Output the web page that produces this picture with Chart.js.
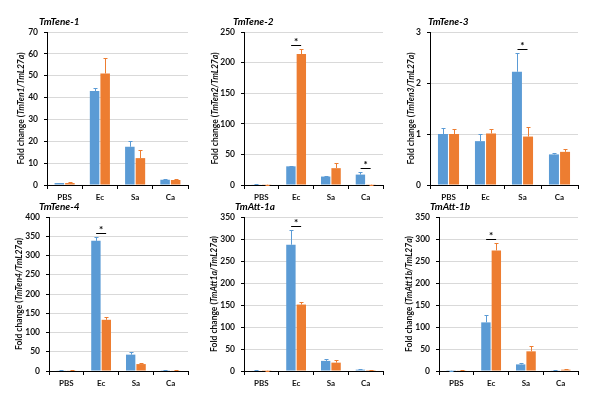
<!DOCTYPE html>
<html>
<head>
<meta charset="utf-8">
<script src="https://cdn.jsdelivr.net/npm/chart.js@4.4.0/dist/chart.umd.min.js"></script>
<style>
  body { margin: 0; background: #fff; }
  #wrap { position: relative; width: 591px; height: 400px; background: #fff; }
  #wrap canvas { position: absolute; }
</style>
</head>
<body>
<div id="wrap">
  <canvas id="c1" width="195" height="200" style="left:0;top:0"></canvas>
  <canvas id="c2" width="195" height="200" style="left:195px;top:0"></canvas>
  <canvas id="c3" width="201" height="200" style="left:390px;top:0"></canvas>
  <canvas id="c4" width="195" height="200" style="left:0;top:200px"></canvas>
  <canvas id="c5" width="195" height="200" style="left:195px;top:200px"></canvas>
  <canvas id="c6" width="201" height="200" style="left:390px;top:200px"></canvas>
</div>
<script>
// data
var categories = ['PBS', 'Ec', 'Sa', 'Ca'];

var tene1Blue = [0.9, 43, 17.5, 2.4];
var tene1BlueErr = [0.2, 1.6, 2.5, 0.3];
var tene1Orange = [0.9, 51, 12.3, 2.3];
var tene1OrangeErr = [0.3, 7, 3.6, 0.3];

var tene2Blue = [1, 30.5, 13.8, 17];
var tene2BlueErr = [0.3, 1, 1, 3.5];
var tene2Orange = [0.5, 214, 27.5, 0.5];
var tene2OrangeErr = [0.2, 9, 8, 0.2];

var tene3Blue = [1.0, 0.86, 2.22, 0.6];
var tene3BlueErr = [0.11, 0.14, 0.37, 0.02];
var tene3Orange = [1.0, 1.01, 0.95, 0.65];
var tene3OrangeErr = [0.1, 0.08, 0.18, 0.05];

var tene4Blue = [1, 338, 42.5, 2];
var tene4BlueErr = [0.3, 10, 7, 0.5];
var tene4Orange = [1, 133, 18, 1];
var tene4OrangeErr = [0.3, 6, 3, 0.3];

var att1aBlue = [1, 287, 23, 3];
var att1aBlueErr = [0.3, 33, 3.5, 0.5];
var att1aOrange = [0.5, 151, 19, 2];
var att1aOrangeErr = [0.2, 5, 7, 0.3];

var att1bBlue = [0.5, 110.5, 15, 1.5];
var att1bBlueErr = [0.2, 16, 4, 0.3];
var att1bOrange = [1.5, 274, 44.7, 3];
var att1bOrangeErr = [0.3, 17, 12, 0.5];

// categories marked with an asterisk
var tene1Sig = [];
var tene2Sig = [1, 3];
var tene3Sig = [2];
var tene4Sig = [1];
var att1aSig = [1];
var att1bSig = [1];

var BLUE = '#5B9BD5';
var ORANGE = '#ED7D31';
var FONT = 'Lato, "Open Sans", sans-serif';

// error bars (upper only, coloured like the bar)
var errorBars = {
  id: 'errorBars',
  afterDatasetsDraw: function(chart) {
    var ctx = chart.ctx, y = chart.scales.y;
    chart.data.datasets.forEach(function(ds, i) {
      var meta = chart.getDatasetMeta(i);
      meta.data.forEach(function(bar, j) {
        var e = ds.errors[j];
        if (!e) return;
        var top = Math.round(y.getPixelForValue(ds.data[j] + e)) + 0.5;
        var x = Math.round(bar.x) + 0.5;
        ctx.save();
        ctx.strokeStyle = ds.backgroundColor;
        ctx.lineWidth = 1;
        ctx.beginPath();
        ctx.moveTo(x, bar.y);
        ctx.lineTo(x, top);
        ctx.moveTo(x - 2, top);
        ctx.lineTo(x + 2, top);
        ctx.stroke();
        ctx.restore();
      });
    });
  }
};

// asterisk + bar over significant pairs, plus the panel title and y title
var labels = {
  id: 'labels',
  afterDraw: function(chart, args, o) {
    var ctx = chart.ctx, y = chart.scales.y, x = chart.scales.x;
    var ds = chart.data.datasets;
    ctx.save();
    (o.sig || []).forEach(function(c) {
      var hi = Math.max(ds[0].data[c] + ds[0].errors[c], ds[1].data[c] + ds[1].errors[c]);
      var ly = Math.round(y.getPixelForValue(hi)) - 4 + 0.5;
      var cx = x.getPixelForValue(c);
      ctx.strokeStyle = '#000';
      ctx.lineWidth = 1;
      ctx.beginPath();
      ctx.moveTo(cx - 5, ly);
      ctx.lineTo(cx + 5, ly);
      ctx.stroke();
      ctx.fillStyle = '#000';
      ctx.font = 'bold 10px ' + FONT;
      ctx.textAlign = 'center';
      ctx.textBaseline = 'alphabetic';
      ctx.fillText('*', cx, ly - 1);
    });

    ctx.fillStyle = '#000';
    ctx.font = 'italic bold 10px ' + FONT;
    ctx.textAlign = 'left';
    ctx.textBaseline = 'middle';
    ctx.fillText(o.title, o.titleX, o.titleY);

    // y title with italic gene names
    var parts = [['Fold change (', false], [o.ratio, true], [')', false]];
    var fonts = { false: 'bold 8.5px ' + FONT, true: 'italic bold 8.5px ' + FONT };
    var total = 0;
    parts.forEach(function(p) { ctx.font = fonts[p[1]]; total += ctx.measureText(p[0]).width; });
    var cy = (chart.chartArea.top + chart.chartArea.bottom) / 2;
    ctx.translate(o.yTitleX, cy);
    ctx.rotate(-Math.PI / 2);
    ctx.textAlign = 'left';
    ctx.fillStyle = '#111';
    var px = -total / 2;
    parts.forEach(function(p) {
      ctx.font = fonts[p[1]];
      ctx.fillText(p[0], px, 0);
      px += ctx.measureText(p[0]).width;
    });
    ctx.restore();
  }
};

function makeChart(id, cfg) {
  var el = document.getElementById(id);
  var W = el.width, H = el.height;
  var a = cfg.area; // [left, top, right, bottom] of the plot area
  return new Chart(el, {
    type: 'bar',
    data: {
      labels: categories,
      datasets: [
        { label: 'Blue', data: cfg.blue, errors: cfg.blueErr, backgroundColor: BLUE },
        { label: 'Orange', data: cfg.orange, errors: cfg.orangeErr, backgroundColor: ORANGE }
      ]
    },
    options: {
      responsive: false,
      animation: false,
      categoryPercentage: 0.6,
      barPercentage: 0.9,
      layout: { padding: { left: 0, top: a[1], right: W - a[2], bottom: 0 } },
      scales: {
        x: {
          afterFit: function(s) { s.height = H - a[3]; },
          grid: { display: true, drawOnChartArea: false, color: '#000', tickLength: 4 },
          border: { color: '#000' },
          ticks: { color: '#111', font: { family: FONT, size: 8, weight: 'bold' }, padding: 4 }
        },
        y: {
          min: 0,
          max: cfg.max,
          afterFit: function(s) { s.width = a[0]; },
          grid: { color: '#d9d9d9', tickColor: '#000', tickLength: 3 },
          border: { color: '#000' },
          ticks: { stepSize: cfg.step, color: '#111', font: { family: FONT, size: 8.5, weight: 'bold' }, padding: 6 }
        }
      },
      plugins: {
        legend: { display: false },
        tooltip: { enabled: false },
        labels: {
          title: cfg.title, titleX: cfg.titleX, titleY: cfg.titleY,
          ratio: cfg.ratio, yTitleX: cfg.yTitleX, sig: cfg.sig
        }
      }
    },
    plugins: [errorBars, labels]
  });
}

makeChart('c1', { title: 'TmTene-1', ratio: 'TmTen1/TmL27a', blue: tene1Blue, blueErr: tene1BlueErr,
  orange: tene1Orange, orangeErr: tene1OrangeErr, sig: tene1Sig, max: 70, step: 10,
  area: [47, 32, 188, 185], titleX: 39, titleY: 22, yTitleX: 21 });
makeChart('c2', { title: 'TmTene-2', ratio: 'TmTen2/TmL27a', blue: tene2Blue, blueErr: tene2BlueErr,
  orange: tene2Orange, orangeErr: tene2OrangeErr, sig: tene2Sig, max: 250, step: 50,
  area: [49, 32, 188, 185], titleX: 38, titleY: 22, yTitleX: 20 });
makeChart('c3', { title: 'TmTene-3', ratio: 'TmTen3/TmL27a', blue: tene3Blue, blueErr: tene3BlueErr,
  orange: tene3Orange, orangeErr: tene3OrangeErr, sig: tene3Sig, max: 3, step: 1,
  area: [40, 32, 188, 185], titleX: 38, titleY: 22, yTitleX: 21 });
makeChart('c4', { title: 'TmTene-4', ratio: 'TmTen4/TmL27a', blue: tene4Blue, blueErr: tene4BlueErr,
  orange: tene4Orange, orangeErr: tene4OrangeErr, sig: tene4Sig, max: 400, step: 50,
  area: [49, 17, 188, 171], titleX: 39, titleY: 7, yTitleX: 19 });
makeChart('c5', { title: 'TmAtt-1a', ratio: 'TmAtt1a/TmL27a', blue: att1aBlue, blueErr: att1aBlueErr,
  orange: att1aOrange, orangeErr: att1aOrangeErr, sig: att1aSig, max: 350, step: 50,
  area: [49, 17, 188, 171], titleX: 40, titleY: 7, yTitleX: 19 });
makeChart('c6', { title: 'TmAtt-1b', ratio: 'TmAtt1b/TmL27a', blue: att1bBlue, blueErr: att1bBlueErr,
  orange: att1bOrange, orangeErr: att1bOrangeErr, sig: att1bSig, max: 350, step: 50,
  area: [49, 17, 188, 171], titleX: 40, titleY: 7, yTitleX: 19 });
</script>
</body>
</html>
